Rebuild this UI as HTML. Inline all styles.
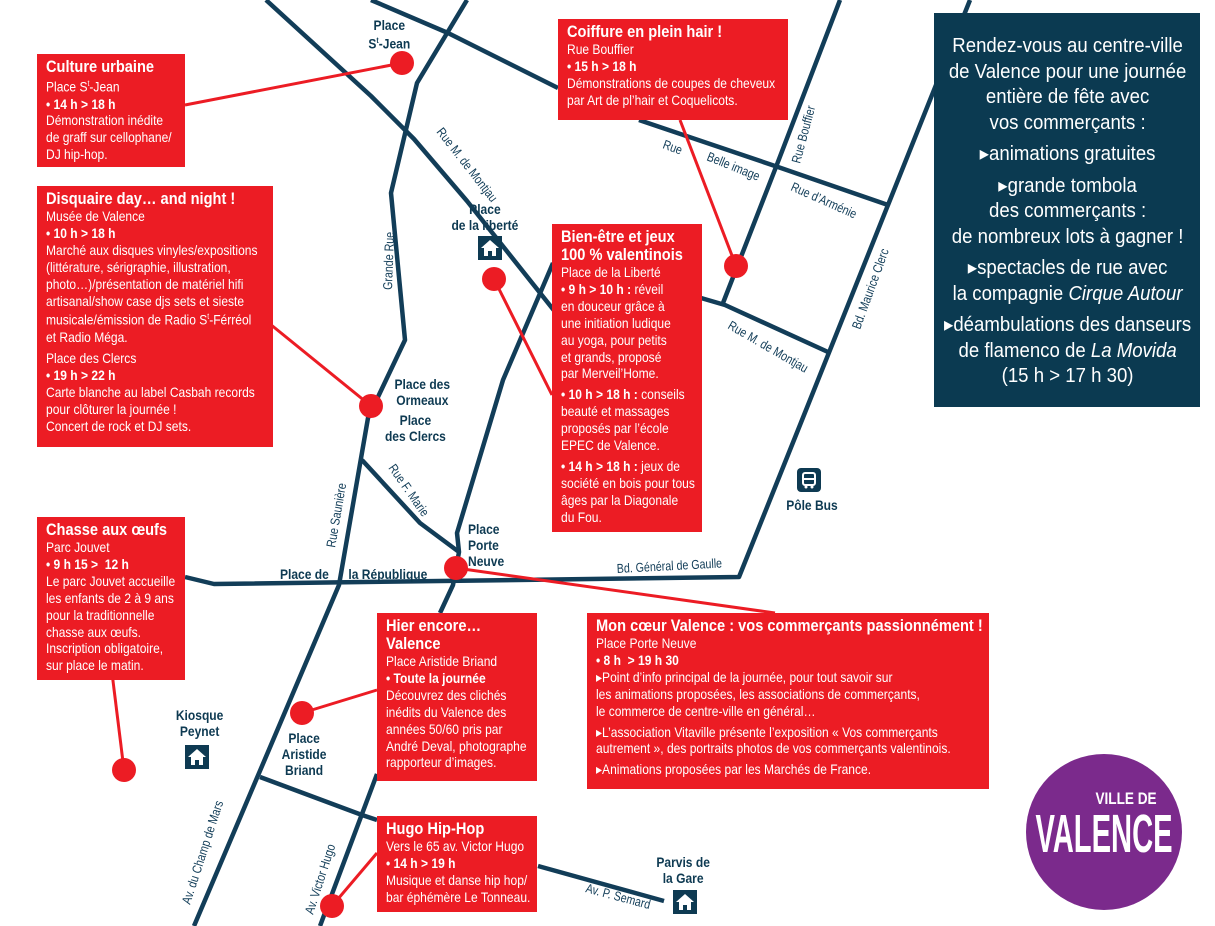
<!DOCTYPE html>
<html><head><meta charset="utf-8">
<style>
body{margin:0;width:1215px;height:926px;overflow:hidden;background:#fff;position:relative;font-family:"Liberation Sans",sans-serif;}
svg{position:absolute;left:0;top:0}
.b{position:absolute;background:#ec1c24;color:#fff;font-size:14px;line-height:16.9px;padding:4px 9px;box-sizing:border-box;overflow:hidden}
.in{width:117%;transform:scaleX(.86);transform-origin:0 0;white-space:nowrap}
.b .t{font-weight:bold;font-size:17px;line-height:18px}
.b .h{font-weight:bold}
.b p{margin:4px 0 0}
.nv{position:absolute;left:934px;top:13px;width:266px;height:394px;background:#0b3a51;color:#fff;text-align:center;font-size:20px;line-height:25.5px;padding-top:21px;box-sizing:border-box}
.nv .in{width:108%;transform:scaleX(.93);white-space:nowrap}
.nv p{margin:0 0 6px}
.lab{position:absolute;color:#0e3a52;font-weight:bold;font-size:14px;line-height:16px;text-align:center;transform:scaleX(.86)}
.house{position:absolute;width:24px;height:24px;background:#0e3a52}
.house svg{position:absolute;left:0;top:0}
</style></head><body>
<svg width="1215" height="926" viewBox="0 0 1215 926">
<g fill="none" stroke="#123d58" stroke-width="4.5" stroke-linejoin="round">
<polyline points="266,0 371,96 414,139 467,201 560,318"/>
<polyline points="701,298 725,305 828,352"/>
<polyline points="371,0 448,33 558,88"/>
<polyline points="639,120 778,167 888,205"/>
<polyline points="467,0 417,83 391,193 405,340 368,418 339,585 194,926"/>
<polyline points="362,460 420,523 459,552"/>
<polyline points="840,0 776,167 723,303"/>
<polyline points="185,577 214,584 739,577 800,425 888,205 970,0"/>
<polyline points="553,263 503,380 457,533 459,552 453,585 440,613"/>
<polyline points="377,774 320,926"/>
<polyline points="260,777 362,815 377,820"/>
<polyline points="538,866 664,901"/>
</g>
<g stroke="#ec1c24" stroke-width="3">
<line x1="185" y1="105" x2="402" y2="63"/>
<line x1="680" y1="120" x2="736" y2="266"/>
<line x1="494" y1="279" x2="552" y2="395"/>
<line x1="270" y1="324" x2="371" y2="406"/>
<line x1="456" y1="568" x2="775" y2="613"/>
<line x1="103" y1="600" x2="124" y2="770"/>
<line x1="302" y1="713" x2="377" y2="690"/>
<line x1="332" y1="906" x2="377" y2="853"/>
</g>
<g fill="#ec1c24">
<circle cx="402" cy="63" r="12"/><circle cx="736" cy="266" r="12"/><circle cx="494" cy="279" r="12"/>
<circle cx="371" cy="406" r="12"/><circle cx="456" cy="568" r="12"/><circle cx="124" cy="770" r="12"/>
<circle cx="302" cy="713" r="12"/><circle cx="332" cy="906" r="12"/>
</g>
<g fill="#123d58" font-family="Liberation Sans,sans-serif" font-size="13">
<text transform="translate(436,132) rotate(52) scale(.82,1)">Rue M. de Montjau</text>
<text transform="translate(392,290) rotate(-88) scale(.82,1)">Grande Rue</text>
<text transform="translate(800,164) rotate(-75) scale(.82,1)">Rue Bouffier</text>
<text transform="translate(790,190) rotate(24) scale(.82,1)">Rue d’Arménie</text>
<text transform="translate(860,330) rotate(-70) scale(.82,1)">Bd. Maurice Clerc</text>
<text transform="translate(727,328) rotate(30) scale(.82,1)">Rue M. de Montjau</text>
<text transform="translate(388,468) rotate(55) scale(.82,1)">Rue F. Marie</text>
<text transform="translate(335,548) rotate(-80) scale(.82,1)">Rue Saunière</text>
<text transform="translate(617,573) rotate(-3) scale(.82,1)">Bd. Général de Gaulle</text>
<text transform="translate(190,905) rotate(-72) scale(.82,1)">Av. du Champ de Mars</text>
<text transform="translate(313,915) rotate(-72) scale(.82,1)">Av. Victor Hugo</text>
<text transform="translate(585,892) rotate(15) scale(.82,1)">Av. P. Semard</text>
<text transform="translate(662,148) rotate(20) scale(.82,1)">Rue</text>
<text transform="translate(706,160) rotate(22) scale(.82,1)">Belle image</text>
</g>
<circle cx="1104" cy="832" r="78" fill="#7b2a8c"/>
<text transform="translate(1126,804) scale(.8,1)" fill="#fff" font-family="Liberation Sans,sans-serif" font-size="17" font-weight="bold" text-anchor="middle">VILLE DE</text>
<text transform="translate(1104,852) scale(.54,1)" fill="#fff" font-family="Liberation Sans,sans-serif" font-size="54" font-weight="bold" text-anchor="middle">VALENCE</text>
</svg>

<div class="lab" style="left:365px;top:17px">Place<br>S<sup style="font-size:8px">t</sup>-Jean</div>
<div class="lab" style="left:446px;top:201px">Place<br>de la liberté</div>
<div class="lab" style="left:390px;top:376px">Place des<br>Ormeaux</div>
<div class="lab" style="left:380px;top:412px">Place<br>des Clercs</div>
<div class="lab" style="left:468px;top:521px;text-align:left;transform-origin:0 0">Place<br>Porte<br>Neuve</div>
<div class="lab" style="left:276px;top:566px">Place de</div>
<div class="lab" style="left:342px;top:566px">la République</div>
<div class="lab" style="left:782px;top:497px">Pôle Bus</div>
<div class="lab" style="left:172px;top:707px">Kiosque<br>Peynet</div>
<div class="lab" style="left:278px;top:730px">Place<br>Aristide<br>Briand</div>
<div class="lab" style="left:652px;top:854px">Parvis de<br>la Gare</div>
<div class="house" style="left:478px;top:236px"><svg width="24" height="24"><path d="M12 4 L21 12 H18 V20 H14 V15 H10 V20 H6 V12 H3 Z" fill="#fff"/></svg></div>
<div class="house" style="left:185px;top:745px"><svg width="24" height="24"><path d="M12 4 L21 12 H18 V20 H14 V15 H10 V20 H6 V12 H3 Z" fill="#fff"/></svg></div>
<div class="house" style="left:673px;top:890px"><svg width="24" height="24"><path d="M12 4 L21 12 H18 V20 H14 V15 H10 V20 H6 V12 H3 Z" fill="#fff"/></svg></div>
<div class="house" style="left:797px;top:468px;border-radius:4px"><svg width="24" height="24"><rect x="6" y="5" width="12" height="12" rx="2" fill="none" stroke="#fff" stroke-width="2"/><line x1="6" y1="11" x2="18" y2="11" stroke="#fff" stroke-width="2"/><circle cx="9" cy="19" r="1.5" fill="#fff"/><circle cx="15" cy="19" r="1.5" fill="#fff"/></svg></div>

<div class="b" style="left:37px;top:54px;width:148px;height:113px"><div class="in"><div class="t">Culture urbaine</div>Place S<sup style="font-size:8px">t</sup>-Jean<br><span class="h">• 14 h &gt; 18 h</span><br>Démonstration inédite<br>de graff sur cellophane/<br>DJ hip-hop.</div></div>
<div class="b" style="left:37px;top:186px;width:236px;height:261px"><div class="in"><div class="t">Disquaire day… and night !</div>Musée de Valence<br><span class="h">• 10 h &gt; 18 h</span><br>Marché aux disques vinyles/expositions<br>(littérature, sérigraphie, illustration,<br>photo…)/présentation de matériel hifi<br>artisanal/show case djs sets et sieste<br>musicale/émission de Radio S<sup style="font-size:8px">t</sup>-Férréol<br>et Radio Méga.<p>Place des Clercs<br><span class="h">• 19 h &gt; 22 h</span><br>Carte blanche au label Casbah records<br>pour clôturer la journée !<br>Concert de rock et DJ sets.</p></div></div>
<div class="b" style="left:37px;top:517px;width:148px;height:163px"><div class="in"><div class="t">Chasse aux œufs</div>Parc Jouvet<br><span class="h">• 9 h 15 &gt;&nbsp; 12 h</span><br>Le parc Jouvet accueille<br>les enfants de 2 à 9 ans<br>pour la traditionnelle<br>chasse aux œufs.<br>Inscription obligatoire,<br>sur place le matin.</div></div>
<div class="b" style="left:558px;top:19px;width:230px;height:101px"><div class="in"><div class="t">Coiffure en plein hair !</div>Rue Bouffier<br><span class="h">• 15 h &gt; 18 h</span><br>Démonstrations de coupes de cheveux<br>par Art de pl’hair et Coquelicots.</div></div>
<div class="b" style="left:552px;top:224px;width:150px;height:308px"><div class="in"><div class="t">Bien-être et jeux<br>100 % valentinois</div>Place de la Liberté<br><span class="h">• 9 h &gt; 10 h :</span> réveil<br>en douceur grâce à<br>une initiation ludique<br>au yoga, pour petits<br>et grands, proposé<br>par Merveil’Home.<p><span class="h">• 10 h &gt; 18 h :</span> conseils<br>beauté et massages<br>proposés par l’école<br>EPEC de Valence.</p><p><span class="h">• 14 h &gt; 18 h :</span> jeux de<br>société en bois pour tous<br>âges par la Diagonale<br>du Fou.</p></div></div>
<div class="b" style="left:377px;top:613px;width:160px;height:168px"><div class="in"><div class="t">Hier encore…<br>Valence</div>Place Aristide Briand<br><span class="h">• Toute la journée</span><br>Découvrez des clichés<br>inédits du Valence des<br>années 50/60 pris par<br>André Deval, photographe<br>rapporteur d’images.</div></div>
<div class="b" style="left:377px;top:816px;width:160px;height:96px"><div class="in"><div class="t">Hugo Hip-Hop</div>Vers le 65 av. Victor Hugo<br><span class="h">• 14 h &gt; 19 h</span><br>Musique et danse hip hop/<br>bar éphémère Le Tonneau.</div></div>
<div class="b" style="left:587px;top:613px;width:402px;height:176px"><div class="in"><div class="t">Mon cœur Valence : vos commerçants passionnément !</div>Place Porte Neuve<br><span class="h">• 8 h &nbsp;&gt; 19 h 30</span><br>▸Point d’info principal de la journée, pour tout savoir sur<br>les animations proposées, les associations de commerçants,<br>le commerce de centre-ville en général…<p>▸L’association Vitaville présente l’exposition « Vos commerçants<br>autrement », des portraits photos de vos commerçants valentinois.</p><p>▸Animations proposées par les Marchés de France.</p></div></div>

<div class="nv"><div class="in"><p>Rendez-vous au centre-ville<br>de Valence pour une journée<br>entière de fête avec<br>vos commerçants :</p><p>▸animations gratuites</p><p>▸grande tombola<br>des commerçants :<br>de nombreux lots à gagner !</p><p>▸spectacles de rue avec<br>la compagnie <i>Cirque Autour</i></p><p>▸déambulations des danseurs<br>de flamenco de <i>La Movida</i><br>(15 h &gt; 17 h 30)</p></div></div>
</body></html>
